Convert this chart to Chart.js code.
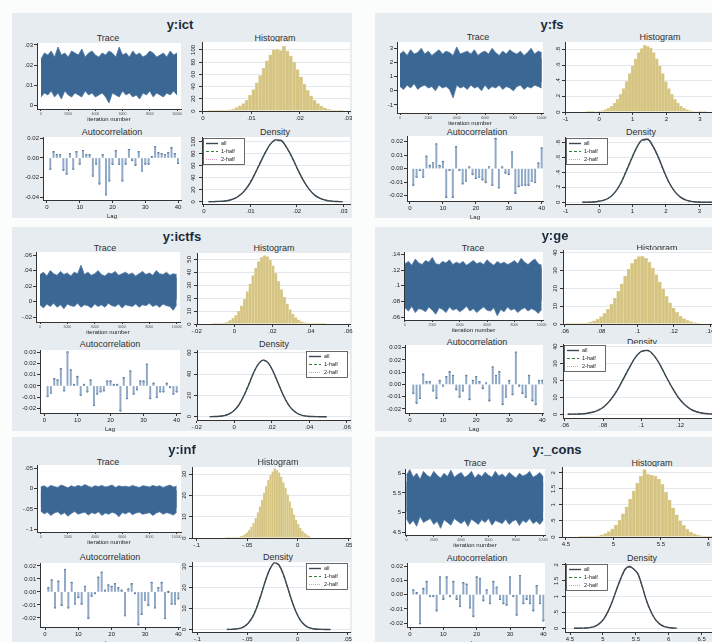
<!DOCTYPE html>
<html>
<head>
<meta charset="utf-8">
<script src="https://cdn.jsdelivr.net/npm/chart.js@4.4.1/dist/chart.umd.min.js"></script>
<style>
html, body { margin: 0; padding: 0; background: #fff; }
#page { position: relative; width: 712px; height: 642px; overflow: hidden; background: #fbfcfc; font-family: "Liberation Sans", Arial, sans-serif; }
.panel { position: absolute; background: #e6ecf0; }
.ttl { position: absolute; transform: translate(-50%, -50%); white-space: nowrap; line-height: 1; }
.main { font-weight: bold; font-size: 13px; color: #1b2a3a; }
.sub { font-size: 9px; color: #303030; }
</style>
</head>
<body>
<div id="page"></div>
<script>
// shared x values
const ITER = [0,250,500,750,1000,1250,1500,1750,2000,2250,2500,2750,3000,3250,3500,3750,4000,4250,4500,4750,5000,
  5250,5500,5750,6000,6250,6500,6750,7000,7250,7500,7750,8000,8250,8500,8750,9000,9250,9500,9750,10000];
const ITER_ENDS = [0,10000];
const ITER_TICKS = [0,2000,4000,6000,8000,10000];
const LAGS = [1,2,3,4,5,6,7,8,9,10,11,12,13,14,15,16,17,18,19,20,21,22,23,24,25,26,27,28,29,30,31,32,33,34,35,36,37,38,39,40];
const LAG_TICKS = [0,10,20,30,40];

// ---- y:ict ----
const ictTraceHi = [.023,.026,.025,.027,.024,.029,.025,.026,.024,.027,.026,.025,.028,.024,.026,.027,.025,.024,.026,.025,
  .027,.026,.024,.029,.025,.026,.024,.027,.025,.026,.024,.025,.027,.026,.024,.025,.026,.024,.027,.025,.026];
const ictTraceLo = [.004,.006,.005,.007,.004,.006,.003,.007,.005,.004,.006,.005,.004,.007,.005,.006,.004,.005,.006,.004,
  .001,.006,.005,.004,.007,.005,.006,.004,.005,.003,.006,.005,.007,.004,.006,.005,.004,.006,.005,.007,.005];
const ictTraceCore = [.0078, .0228];
const ictHistStart = .001, ictHistWidth = .0007;
const ictHist = [0.1,0.1,0.2,0.3,0.6,1.2,2,3.3,5.5,8.3,12,18,26,35,46,58,70,82,92,100,
  101,99,106,98,90,80,68,56,44,34,25,18,12,8,5,3,2,1,0.6,0.3];
const ictAcf = [-.011,.006,.003,.003,-.012,-.016,.004,-.011,.006,-.006,.007,.003,.003,-.018,-.006,-.026,.003,-.037,-.023,-.006,
  .007,-.006,-.023,-.006,.008,-.002,-.007,.006,-.013,-.006,-.006,.001,.011,.005,.004,.003,.005,.010,.004,-.005];
const ictDensFrom = .001, ictDensStep = .0012;
const ictDensAll = [0.05,0.2,0.5,1.3,3.3,7,14,25,41,60,79,95,103,102,90,73,53,35,21,11,5.5,2.4,1,0.4,0.1];
const ictDensH1 = [0.05,0.2,0.6,1.4,3.5,7.4,14.6,26,42,61,80,95,102,101,89,72,53,35,21,11,5.4,2.3,1,0.4,0.1];
const ictDensH2 = [0.05,0.2,0.5,1.2,3.1,6.7,13.5,24,40,59,78,95,104,103,91,74,54,35,21,11,5.6,2.5,1,0.4,0.1];

// ---- y:fs ----
const fsTraceHi = [2.6,2.8,2.5,2.9,2.6,2.7,3.0,2.6,2.8,2.5,2.7,2.9,2.6,2.8,2.7,2.5,3.1,2.6,2.7,2.8,
  2.6,2.9,2.5,2.7,2.8,2.6,3.0,2.7,2.5,2.8,2.6,2.9,2.7,2.6,2.8,2.5,2.7,3.0,2.6,2.8,2.7];
const fsTraceLo = [0.3,0.1,0.4,0.2,0.5,0.1,0.3,0.4,0.2,0.3,0.0,0.4,0.2,0.3,0.1,-0.5,0.4,0.2,0.3,0.1,
  0.4,0.2,0.3,0.0,0.4,0.1,0.3,0.2,0.4,0.1,0.3,0.2,0.0,0.3,0.4,0.1,0.3,0.2,0.4,0.3,0.2];
const fsTraceCore = [0.62, 2.3];
const fsHistStart = -0.4, fsHistWidth = 0.09;
const fsHist = [0.001,0.002,0.003,0.006,0.01,0.019,0.03,0.049,0.076,0.113,0.162,0.225,0.30,0.39,0.49,0.59,0.68,0.76,0.81,0.85,
  0.84,0.82,0.76,0.68,0.59,0.49,0.39,0.30,0.225,0.162,0.113,0.076,0.049,0.03,0.019,0.01,0.006,0.003,0.002,0.001];
const fsAcf = [-.012,-.006,-.001,-.006,.009,.002,.004,.018,.002,.005,-.021,-.001,-.021,.016,-.001,-.011,-.009,.001,-.004,-.007,
  -.006,-.008,-.010,.001,-.012,.022,-.014,.001,-.003,-.004,.012,-.018,-.013,-.012,-.012,-.012,-.009,-.010,.004,.015];
const fsDensFrom = -0.5, fsDensStep = 0.1625;
const fsDensAll = [0,0.001,0.004,0.013,0.028,0.064,0.132,0.244,0.40,0.57,0.73,0.83,0.84,0.75,0.60,0.42,0.26,0.145,0.072,0.031,0.012,0.004,0.001,0,0];
const fsDensH1 = [0,0.001,0.005,0.014,0.03,0.067,0.136,0.25,0.41,0.58,0.73,0.83,0.83,0.74,0.59,0.41,0.255,0.142,0.07,0.03,0.012,0.004,0.001,0,0];
const fsDensH2 = [0,0.001,0.004,0.012,0.026,0.061,0.128,0.238,0.39,0.56,0.73,0.84,0.85,0.76,0.61,0.43,0.265,0.148,0.074,0.032,0.012,0.004,0.001,0,0];

// ---- y:ictfs ----
const ictfsTraceHi = [.035,.038,.033,.040,.036,.034,.039,.035,.037,.033,.038,.036,.047,.035,.038,.034,.036,.040,.035,.033,
  .037,.036,.039,.034,.036,.038,.035,.037,.033,.036,.039,.035,.037,.034,.040,.036,.035,.038,.034,.036,.035];
const ictfsTraceLo = [-.004,-.008,-.003,-.006,-.002,-.007,-.004,-.009,-.003,-.005,-.006,-.002,-.007,-.004,-.005,-.008,-.003,-.006,-.004,-.007,
  -.002,-.005,-.006,-.003,-.008,-.004,-.005,-.006,-.003,-.007,-.004,-.005,-.002,-.006,-.004,-.007,-.003,-.005,-.006,-.011,-.004];
const ictfsTraceCore = [.003, .031];
const ictfsHistStart = -.012, ictfsHistWidth = .0015;
const ictfsHist = [0.07,0.15,0.3,0.55,1,1.7,2.8,4.4,6.7,9.9,14,19,25,31,37.4,43.3,48.3,51.6,53,52.2,
  49.5,44.9,39.2,33,26.7,20.8,15.5,11.1,7.6,5,3.2,1.9,1.1,0.6,0.35,0.18,0.09,0.04,0.02,0.01];
const ictfsAcf = [-.009,-.006,.006,.005,.015,-.004,.030,.014,.001,.008,-.008,.001,-.005,.005,-.017,-.007,-.005,-.004,.004,.004,
  .001,.001,-.022,.007,-.011,.013,-.007,-.003,.004,.004,.019,-.011,.002,-.010,-.005,-.005,.002,-.001,-.007,-.005];
const ictfsDensFrom = -.013, ictfsDensStep = .0026;
const ictfsDensAll = [0.02,0.12,0.37,1.05,2.6,5.7,11.2,19.6,30,41.2,49.5,53,50.4,42.4,31.8,21,12.3,6.4,3,1.2,0.45,0.15,0.04,0.01,0];
const ictfsDensH1 = [0.02,0.13,0.4,1.1,2.7,5.9,11.5,20,30.5,41.5,49.5,52.6,50,42,31.5,20.8,12.2,6.3,3,1.2,0.45,0.15,0.04,0.01,0];
const ictfsDensH2 = [0.02,0.11,0.34,1,2.5,5.5,10.9,19.2,29.5,40.9,49.5,53.4,50.8,42.8,32.1,21.2,12.4,6.5,3,1.2,0.45,0.15,0.04,0.01,0];

// ---- y:ge ----
const geTraceHi = [.128,.131,.126,.134,.129,.127,.132,.130,.136,.128,.127,.131,.129,.133,.127,.130,.128,.131,.126,.129,
  .132,.128,.130,.127,.133,.129,.126,.131,.128,.130,.127,.129,.132,.128,.135,.130,.127,.131,.134,.128,.126];
const geTraceLo = [.072,.068,.074,.066,.071,.070,.067,.073,.069,.064,.072,.070,.066,.073,.069,.071,.067,.070,.074,.068,
  .071,.066,.070,.073,.069,.068,.072,.062,.070,.067,.073,.069,.071,.066,.070,.072,.068,.071,.069,.065,.070];
const geTraceCore = [.081, .123];
const geHistStart = .060, geHistWidth = .0019;
const geHist = [0.02,0.04,0.07,0.13,0.23,0.42,0.71,1.17,1.84,2.82,4.18,5.97,8.3,11.2,14.6,18.5,22.5,26.9,30.8,34,
  36.4,37.8,37.9,36.8,34.6,31.4,27.7,23.7,19.6,15.5,11.9,8.9,6.5,4.5,3.1,2,1.3,0.8,0.5,0.27];
const geAcf = [-.007,-.015,-.011,.008,.002,.002,-.005,-.011,.003,-.001,.006,.010,.007,-.004,-.010,-.005,.007,-.012,.003,.006,
  .002,-.003,.001,-.013,.014,.007,.010,-.016,-.010,.003,-.008,.026,-.001,-.007,-.010,.007,-.013,-.016,.003,.003];
const geDensFrom = .0615, geDensStep = .0032;
const geDensAll = [0.02,0.07,0.19,0.5,1.18,2.5,4.8,8.7,13.9,20.5,27.3,33.5,37.2,37.8,35,29.6,22.5,15.9,10.1,5.9,3.1,1.5,0.65,0.27,0.1];
const geDensH1 = [0.02,0.08,0.21,0.53,1.25,2.6,5,9,14.2,20.8,27.5,33.4,37,37.5,34.7,29.4,22.4,15.8,10,5.8,3.1,1.5,0.65,0.27,0.1];
const geDensH2 = [0.02,0.06,0.17,0.47,1.1,2.4,4.6,8.4,13.6,20.2,27.1,33.6,37.4,38.1,35.3,29.8,22.6,16,10.2,6,3.1,1.5,0.65,0.27,0.1];

// ---- y:inf ----
const infTraceHi = [.004,.007,.002,.008,.005,.003,.009,.006,.002,.007,.004,.008,.005,.010,.006,.003,.007,.005,.008,.004,
  .006,.009,.003,.007,.005,.006,.004,.008,.005,.003,.007,.006,.004,.008,.005,.007,.003,.006,.009,.004,.006];
const infTraceLo = [-.055,-.062,-.058,-.066,-.060,-.057,-.064,-.059,-.068,-.061,-.056,-.063,-.060,-.058,-.065,-.059,-.062,-.057,-.066,-.060,
  -.063,-.058,-.061,-.069,-.059,-.062,-.057,-.064,-.060,-.058,-.063,-.061,-.059,-.066,-.060,-.057,-.063,-.059,-.061,-.065,-.058];
const infTraceCore = [-.047, -.004];
const infHistStart = -.072, infHistWidth = .0021;
const infHist = [0.01,0.03,0.05,0.09,0.16,0.28,0.46,0.75,1.15,1.75,2.6,3.75,5.25,7.05,9.3,12,14.8,18,21.3,24.4,
  27.2,29.6,31.2,32.6,31.8,30.8,28.8,26.1,23.6,20.4,17.1,13.9,11,8.6,6.4,4.7,3.3,2.2,1.5,1];
const infAcf = [.003,.009,-.012,.008,-.010,.017,-.012,.007,-.009,-.004,-.009,.004,-.020,-.003,-.001,.011,.015,.001,.005,.004,
  .006,.003,.001,-.018,.002,.006,-.001,-.025,-.017,-.006,-.010,.007,-.012,.003,.007,-.020,.000,-.009,-.009,-.005];
const infDensFrom = -.0705, infDensStep = .0043;
const infDensAll = [0.02,0.06,0.2,0.55,1.4,3.1,6.1,10.9,17,23.6,28.9,31.8,31,26.8,20.6,14.1,8.6,4.6,2.2,0.9,0.35,0.12,0.03,0.01,0];
const infDensH1 = [0.02,0.07,0.22,0.6,1.5,3.3,6.4,11.2,17.3,23.8,28.9,31.5,30.7,26.5,20.4,14,8.5,4.6,2.2,0.9,0.35,0.12,0.03,0.01,0];
const infDensH2 = [0.02,0.05,0.18,0.5,1.3,2.9,5.8,10.6,16.7,23.4,28.9,32.1,31.3,27.1,20.8,14.2,8.7,4.6,2.2,0.9,0.35,0.12,0.03,0.01,0];

// ---- y:_cons ----
const consTraceHi = [5.95,6.10,5.90,6.00,5.85,6.05,5.95,5.90,6.05,5.95,5.88,6.00,5.92,6.08,5.90,5.97,6.02,5.90,5.95,6.05,
  5.88,5.98,5.92,6.03,5.95,5.90,6.05,5.93,5.98,5.90,6.02,5.95,5.88,6.00,5.93,5.97,6.05,5.90,5.95,6.02,5.90];
const consTraceLo = [4.85,4.70,4.80,4.65,4.90,4.75,4.80,4.85,4.70,4.78,4.60,4.82,4.75,4.68,4.85,4.78,4.72,4.80,4.65,4.83,
  4.77,4.70,4.82,4.75,4.85,4.68,4.80,4.76,4.72,4.83,4.70,4.78,4.82,4.67,4.80,4.75,4.85,4.72,4.78,4.70,4.82];
const consTraceCore = [5.02, 5.78];
const consHistStart = 4.56, consHistWidth = .0375;
const consHist = [0,0,0.001,0.003,0.006,0.011,0.02,0.037,0.065,0.105,0.167,0.257,0.372,0.53,0.72,0.94,1.18,1.44,1.68,1.9,
  2.1,1.95,1.93,1.9,1.8,1.64,1.40,1.15,0.91,0.69,0.50,0.36,0.24,0.156,0.099,0.059,0.034,0.02,0.01,0.005];
const consAcf = [.003,.001,-.020,.004,.009,-.001,-.001,-.011,.012,-.003,.012,-.001,.009,-.003,-.008,.008,.007,-.009,-.015,.012,
  .011,-.004,.003,-.006,.009,.005,-.003,-.006,-.007,.012,-.001,-.014,.013,-.006,-.003,-.006,-.011,.006,-.006,-.018];
const consDensFrom = 4.56, consDensStep = .065;
const consDensAll = [0,0.001,0.004,0.011,0.029,0.07,0.155,0.3,0.54,0.86,1.24,1.59,1.87,1.95,1.86,1.7,1.3,0.85,0.52,0.28,0.14,0.06,0.025,0.009,0.003];
const consDensH1 = [0,0.001,0.005,0.012,0.031,0.074,0.16,0.31,0.55,0.87,1.25,1.58,1.85,1.93,1.85,1.69,1.3,0.86,0.53,0.29,0.14,0.06,0.025,0.009,0.003];
const consDensH2 = [0,0.001,0.003,0.01,0.027,0.066,0.15,0.29,0.53,0.85,1.23,1.6,1.89,1.97,1.87,1.71,1.3,0.84,0.51,0.27,0.14,0.06,0.025,0.009,0.003];

const FONT = '"Liberation Sans", Arial, sans-serif';
const PT = 5, PR = 10;
const page = document.getElementById('page');

// panel table: layout in page pixels, axis ranges, tick values
const panels = [
  { name: 'y:ict', box: [12,13,352,218], title: [180,24],
    sub: { trace: [108,38], hist: [275,38], ac: [112,132], dens: [275,132] },
    trace: [37,43,181,109], hist: [202,42,350,111], ac: [43,137,181,200], dens: [202,137,350,204],
    hi: ictTraceHi, lo: ictTraceLo, core: ictTraceCore, hs: ictHistStart, hw: ictHistWidth, hh: ictHist, acf: ictAcf,
    df: ictDensFrom, ds: ictDensStep, da: ictDensAll, d1: ictDensH1, d2: ictDensH2,
    tX: [-294,10294], tY: [-.002,.031], tYt: [0,.01,.02,.03],
    hX: [-.0002,.0304], hXt: [0,.01,.02,.03], hY: [0,113], hYt: [0,20,40,60,80,100],
    aX: [-1.22,40.9], aY: [-.0427,.0213], aYt: [-.04,-.02,0,.02],
    dX: [-.00043,.0314], dXt: [0,.01,.02,.03], dY: [-3.8,107.8], dYt: [0,20,40,60,80,100], leg: 'left' },
  { name: 'y:fs', box: [375,13,715,218], title: [552,24],
    sub: { trace: [478,37], hist: [660,37], ac: [477,132], dens: [641,132] },
    trace: [397,42,543,113], hist: [565,42,714,112], ac: [407,136,543,201], dens: [565,137,714,204],
    hi: fsTraceHi, lo: fsTraceLo, core: fsTraceCore, hs: fsHistStart, hw: fsHistWidth, hh: fsHist, acf: fsAcf,
    df: fsDensFrom, ds: fsDensStep, da: fsDensAll, d1: fsDensH1, d2: fsDensH2,
    tX: [-212,10092], tY: [-1.565,3.445], tYt: [-1,0,1,2,3],
    hX: [-1.02,3.42], hXt: [-1,0,1,2,3], hY: [0,.894], hYt: [0,.2,.4,.6,.8],
    aX: [-0.91,40.4], aY: [-.024,.0242], aYt: [-.02,-.01,0,.01,.02],
    dX: [-1.02,3.44], dXt: [-1,0,1,2,3], dY: [-.023,.871], dYt: [0,.2,.4,.6,.8], leg: 'left' },
  { name: 'y:ictfs', box: [12,227,352,431], title: [182,236],
    sub: { trace: [105,248], hist: [274,248], ac: [110,344], dens: [274,344] },
    trace: [36,252,180,322], hist: [197,253,350,324], ac: [40,350,180,413], dens: [197,350,350,420],
    hi: ictfsTraceHi, lo: ictfsTraceLo, core: ictfsTraceCore, hs: ictfsHistStart, hw: ictfsHistWidth, hh: ictfsHist, acf: ictfsAcf,
    df: ictfsDensFrom, ds: ictfsDensStep, da: ictfsDensAll, d1: ictfsDensH1, d2: ictfsDensH2,
    tX: [-293,10241], tY: [-.026,.0639], tYt: [-.02,0,.02,.04,.06],
    hX: [-.0198,.0609], hXt: [-.02,0,.02,.04,.06], hY: [0,54.9], hYt: [0,10,20,30,40,50],
    aX: [-1.3,41], aY: [-.0242,.0321], aYt: [-.02,-.01,0,.01,.02,.03],
    dX: [-.0198,.0618], dXt: [-.02,0,.02,.04,.06], dY: [-3.1,62.5], dYt: [0,20,40,60], leg: 'right' },
  { name: 'y:ge', box: [375,227,715,431], title: [555,235],
    sub: { trace: [473,248], hist: [657,248], ac: [477,342], dens: [642,342] },
    trace: [404,252,543,320], hist: [563,250,714,324], ac: [405,345,543,413], dens: [563,344,714,418],
    hi: geTraceHi, lo: geTraceLo, core: geTraceCore, hs: geHistStart, hw: geHistWidth, hh: geHist, acf: geAcf,
    df: geDensFrom, ds: geDensStep, da: geDensAll, d1: geDensH1, d2: geDensH2,
    tX: [-73,10095], tY: [.0566,.1429], tYt: [.06,.08,.1,.12,.14],
    hX: [.0589,.1422], hXt: [.06,.08,.1,.12,.14], hY: [0,41.5], hYt: [0,10,20,30,40],
    aX: [-1.5,40.2], aY: [-.0233,.0322], aYt: [-.02,-.01,0,.01,.02,.03],
    dX: [.059,.1378], dXt: [.06,.08,.1,.12,.14], dY: [-2.2,41.6], dYt: [0,10,20,30,40], leg: 'left' },
  { name: 'y:inf', box: [12,437,352,645], title: [182,449],
    sub: { trace: [108,462], hist: [278,462], ac: [110,557], dens: [278,557] },
    trace: [37,465,181,532], hist: [192,467,350,538], ac: [40,563,180,627], dens: [192,562,350,632],
    hi: infTraceHi, lo: infTraceLo, core: infTraceCore, hs: infHistStart, hw: infHistWidth, hh: infHist, acf: infAcf,
    df: infDensFrom, ds: infDensStep, da: infDensAll, d1: infDensH1, d2: infDensH2,
    tX: [-272,10316], tY: [-.1066,.0581], tYt: [-.1,-.05,0,.05],
    hX: [-.1046,.0517], hXt: [-.1,-.05,0,.05], hY: [0,33.4], hYt: [0,10,20,30],
    aX: [-1.5,40.5], aY: [-.027,.0223], aYt: [-.02,-.01,0,.01,.02],
    dX: [-.1053,.0523], dXt: [-.1,-.05,0,.05], dY: [-1.2,32.2], dYt: [0,10,20,30], leg: 'right' },
  { name: 'y:_cons', box: [375,437,715,645], title: [557,449],
    sub: { trace: [475,463], hist: [652,463], ac: [477,558], dens: [642,558] },
    trace: [405,469,545,535], hist: [562,467,714,537], ac: [407,563,545,627], dens: [565,563,714,632],
    hi: consTraceHi, lo: consTraceLo, core: consTraceCore, hs: consHistStart, hw: consHistWidth, hh: consHist, acf: consAcf,
    df: consDensFrom, ds: consDensStep, da: consDensAll, d1: consDensH1, d2: consDensH2,
    tX: [-100,10120], tY: [4.43,6.11], tYt: [4.5,5,5.5,6],
    hX: [4.46,6.06], hXt: [4.5,5,5.5,6], hY: [0,2.18], hYt: [0,.5,1,1.5,2],
    aX: [-0.9,40.5], aY: [-.0226,.0221], aYt: [-.02,-.01,0,.01,.02],
    dX: [4.424,6.687], dXt: [4.5,5,5.5,6,6.5], dY: [-.117,2.06], dYt: [0,.5,1,1.5,2], leg: 'left' }
];

// white plot region like Stata
Chart.register({
  id: 'plotBg',
  beforeDraw(chart) {
    const a = chart.chartArea, ctx = chart.ctx;
    ctx.save(); ctx.fillStyle = '#fff';
    ctx.fillRect(a.left, a.top, a.right - a.left, a.bottom - a.top);
    ctx.restore();
  }
});

// boxed legend inside the plot region
Chart.register({
  id: 'boxLegend',
  afterDraw(chart, args, opts) {
    if (!opts.side) return;
    const ctx = chart.ctx, a = chart.chartArea;
    const w = 42, h = 27;
    const x = opts.side === 'left' ? a.left + 1 : a.right - w - 2;
    const y = a.top + 1;
    ctx.save();
    ctx.fillStyle = '#fff'; ctx.fillRect(x, y, w, h);
    ctx.strokeStyle = '#444'; ctx.lineWidth = 0.8; ctx.strokeRect(x + 0.5, y + 0.5, w - 1, h - 1);
    ctx.font = '5.5px ' + FONT; ctx.textBaseline = 'middle';
    chart.data.datasets.forEach((ds, i) => {
      const ly = y + 5.5 + i * 8;
      ctx.strokeStyle = ds.borderColor; ctx.lineWidth = ds.borderWidth;
      ctx.setLineDash(ds.borderDash || []);
      ctx.beginPath(); ctx.moveTo(x + 3, ly); ctx.lineTo(x + 15, ly); ctx.stroke();
      ctx.setLineDash([]);
      ctx.fillStyle = '#222'; ctx.fillText(ds.label, x + 18, ly);
    });
    ctx.restore();
  }
});

function stataNum(v) {
  return String(+v.toFixed(6)).replace(/^(-?)0\./, '$1.');
}

function axis(range, ticks, fmt, opt) {
  opt = opt || {};
  return {
    type: 'linear', min: range[0], max: range[1], offset: false,
    afterBuildTicks: s => { s.ticks = ticks.map(v => ({ value: v })); },
    ticks: {
      font: { size: opt.size || 6, family: FONT }, color: opt.color || '#222', padding: 1, autoSkip: false,
      minRotation: opt.rot || 0, maxRotation: opt.rot || 0, crossAlign: opt.rot ? 'center' : 'near',
      callback: v => fmt(v)
    },
    grid: { drawOnChartArea: !!opt.grid, color: '#e4e8eb', tickColor: '#333', tickLength: opt.tick || 3, offset: false },
    border: { color: '#333', width: 1 },
    title: opt.title ? { display: true, text: opt.title, font: { size: 6, family: FONT }, color: '#222', padding: 0 } : { display: false }
  };
}

function mount(rect, yw, xh, type, data, scales, plugins) {
  const [l, t, r, b] = rect;
  const w = r - l + yw + PR, h = b - t + PT + xh;
  const cv = document.createElement('canvas');
  cv.width = w; cv.height = h;
  cv.style.cssText = `position:absolute;left:${l - yw}px;top:${t - PT}px;width:${w}px;height:${h}px`;
  page.appendChild(cv);
  scales.x.position = 'bottom';
  scales.y.position = 'left';
  scales.x.afterFit = s => { s.height = xh; };
  scales.y.afterFit = s => { s.width = yw; };
  new Chart(cv, {
    type, data,
    options: {
      responsive: false, animation: false, events: [],
      layout: { padding: { left: 0, top: PT, right: PR, bottom: 0 } },
      scales,
      plugins: Object.assign({ legend: { display: false }, tooltip: { enabled: false } }, plugins || {})
    }
  });
}

function label(cls, text, pos) {
  const d = document.createElement('div');
  d.className = 'ttl ' + cls;
  d.textContent = text;
  d.style.left = pos[0] + 'px';
  d.style.top = pos[1] + 'px';
  page.appendChild(d);
}

const acFmt = v => (Math.abs(v) < 1e-9 ? 0 : v).toFixed(2);

panels.forEach(P => {
  const bx = document.createElement('div');
  bx.className = 'panel';
  bx.style.cssText = `left:${P.box[0]}px;top:${P.box[1]}px;width:${P.box[2] - P.box[0]}px;height:${P.box[3] - P.box[1]}px`;
  page.appendChild(bx);
  label('main', P.name, P.title);
  label('sub', 'Trace', P.sub.trace);
  label('sub', 'Histogram', P.sub.hist);
  label('sub', 'Autocorrelation', P.sub.ac);
  label('sub', 'Density', P.sub.dens);

  // trace: spiky envelope of the draws, with the dense core on top
  mount(P.trace, 24, 14, 'line', {
    datasets: [
      { data: ITER.map((x, i) => ({ x, y: P.hi[i] })), borderColor: '#4f77a3', borderWidth: 0.8, pointRadius: 0, fill: false },
      { data: ITER.map((x, i) => ({ x, y: P.lo[i] })), borderColor: '#4f77a3', borderWidth: 0.8, pointRadius: 0, fill: '-1', backgroundColor: '#3b6795' },
      { data: ITER_ENDS.map(x => ({ x, y: P.core[1] })), borderWidth: 0, pointRadius: 0, fill: false },
      { data: ITER_ENDS.map(x => ({ x, y: P.core[0] })), borderWidth: 0, pointRadius: 0, fill: '-1', backgroundColor: '#1b456e' }
    ]
  }, {
    x: axis(P.tX, ITER_TICKS, v => String(v), { size: 3.5, color: '#555', title: 'iteration number', tick: 2 }),
    y: axis(P.tY, P.tYt, stataNum)
  });

  // histogram
  const centers = P.hh.map((_, i) => P.hs + P.hw * (i + 0.5));
  mount(P.hist, 14, 13, 'bar', {
    datasets: [{
      data: centers.map((x, i) => ({ x, y: P.hh[i] })),
      backgroundColor: '#d5c482', borderColor: '#e6dba9', borderWidth: 0.5,
      barPercentage: 1, categoryPercentage: 1
    }]
  }, {
    x: axis(P.hX, P.hXt, stataNum),
    y: axis(P.hY, P.hYt, stataNum, { rot: 90, grid: true })
  });

  // autocorrelation spikes
  mount(P.ac, 24, 20, 'bar', {
    datasets: [
      { data: LAGS.map((x, i) => ({ x, y: P.acf[i] })), backgroundColor: '#8ea8c6', barThickness: 1.3 },
      { type: 'line', data: LAGS.map((x, i) => ({ x, y: P.acf[i] })), showLine: false, pointRadius: 1.1,
        pointBackgroundColor: '#2f557f', pointBorderWidth: 0 }
    ]
  }, {
    x: axis(P.aX, LAG_TICKS, v => String(v), { title: 'Lag' }),
    y: axis(P.aY, P.aYt, acFmt)
  });

  // density: all draws and the two halves
  const grid = P.da.map((_, i) => P.df + P.ds * i);
  mount(P.dens, 14, 13, 'line', {
    datasets: [
      { label: 'all', data: grid.map((x, i) => ({ x, y: P.da[i] })), borderColor: '#3b4854', borderWidth: 1.4, pointRadius: 0, cubicInterpolationMode: 'monotone' },
      { label: '1-half', data: grid.map((x, i) => ({ x, y: P.d1[i] })), borderColor: '#2f7f36', borderWidth: 1, borderDash: [3, 2], pointRadius: 0, cubicInterpolationMode: 'monotone' },
      { label: '2-half', data: grid.map((x, i) => ({ x, y: P.d2[i] })), borderColor: '#de94c4', borderWidth: 1, borderDash: [1, 1], pointRadius: 0, cubicInterpolationMode: 'monotone' }
    ]
  }, {
    x: axis(P.dX, P.dXt, stataNum),
    y: axis(P.dY, P.dYt, stataNum, { rot: 90, grid: true })
  }, { boxLegend: { side: P.leg } });
});
</script>
</body>
</html>
